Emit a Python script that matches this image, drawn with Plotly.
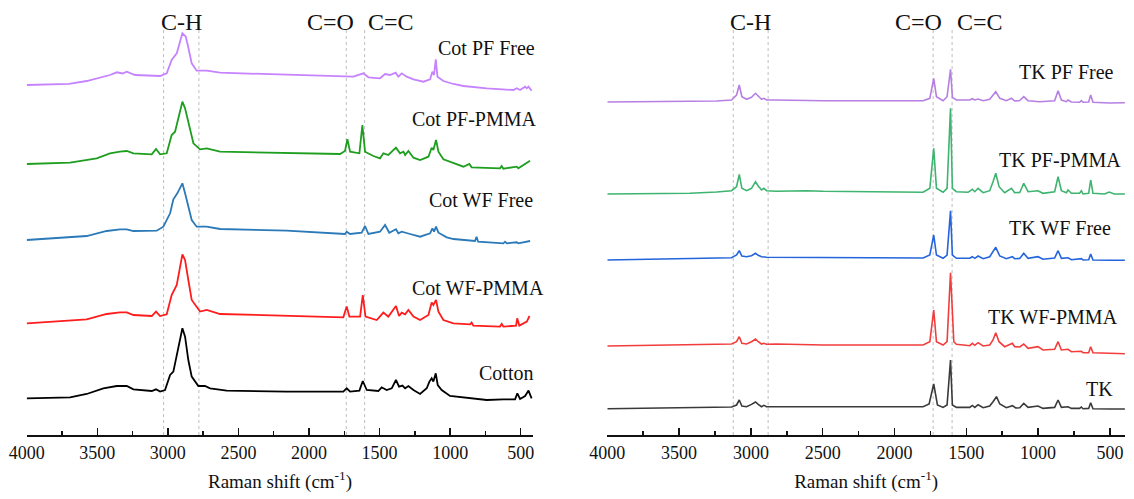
import plotly.graph_objects as go

FONT = "Liberation Serif, Times New Roman, serif"
W, H = 1134, 499

# ---------------- Left panel: cotton spectra (wavenumber, relative intensity) ----------------
cot_pf_free_x = [4000, 3700, 3575, 3410, 3362, 3320, 3291, 3232, 3055, 3008, 2973, 2937, 2897, 2873, 2859, 2831, 2796, 2725, 2630, 2276, 1686,
                 1615, 1579, 1497, 1461, 1426, 1386, 1367, 1343, 1308, 1260, 1190, 1142, 1126, 1114, 1102, 1090, 1048, 977, 906, 741,
                 552, 528, 505, 469, 457, 445, 423]
cot_pf_free_y = [0, 1.2, 4, 10, 12.7, 11.5, 13.3, 10, 9, 11.7, 25, 31.7, 51.7, 48.3, 40, 21.7, 14.3, 14.3, 12.3, 10.7, 8.3,
                 11.7, 7.7, 6.7, 11, 10, 12.3, 8.3, 11.7, 8.3, 5.7, 3.3, 5.7, 13.3, 10, 25.7, 8.3, 4, 1, -1, -3.3,
                 -5, -3.3, -5, -1.7, -3.3, -1.7, -5.7]

cot_pf_pmma_x = [4000, 3693, 3504, 3410, 3339, 3291, 3244, 3114, 3084, 3055, 3008, 2973, 2949, 2897, 2878, 2843, 2819, 2772, 2725, 2630,
                 2158, 1780, 1745, 1728, 1709, 1643, 1622, 1603, 1544, 1497, 1473, 1438, 1384, 1355, 1331, 1319, 1296, 1260, 1213, 1154,
                 1131, 1119, 1100, 1083, 1048, 977, 906, 864, 848, 647, 635, 623, 528, 517, 457, 434]
cot_pf_pmma_y = [0, 1.3, 5.7, 10.7, 12.3, 13, 10.7, 9.7, 15, 9.7, 10.7, 29, 32.3, 62.3, 55.7, 34, 20.7, 14.7, 15.7, 12.3,
                 11.3, 10, 13, 24.7, 12.3, 10.7, 39, 12.3, 8, 5.7, 10.7, 9, 16.3, 10.7, 12.3, 9, 13, 6.3, 4, 7.3,
                 16.3, 14, 24, 12.3, 4.7, 0.7, -2.7, 0, -3.3, -4.3, -2, -4.7, -2.7, -4.3, 1.3, 3.3]

cot_wf_free_x = [4000, 3575, 3433, 3339, 3291, 3244, 3079, 3032, 2984, 2961, 2933, 2897, 2878, 2855, 2831, 2796, 2725, 2630, 2158, 1745,
                 1733, 1709, 1627, 1603, 1579, 1497, 1461, 1431, 1384, 1367, 1343, 1284, 1213, 1142, 1126, 1114, 1100, 1083, 1024, 977,
                 824, 813, 802, 623, 611, 599, 528, 517, 434]
cot_wf_free_y = [0, 4, 9, 10.7, 10.7, 9, 9.3, 13.3, 26.7, 40.7, 46.7, 56.7, 46.7, 35, 20, 13.3, 13.3, 11, 9.3, 6,
                 8.3, 6, 7.3, 14, 6, 8.3, 15, 7.3, 10.7, 6.7, 8.3, 6, 3.3, 6.7, 11.7, 8.3, 13.3, 7.3, 2.7, 1,
                 -1, 3.3, -1.7, -3.3, -1.7, -3.3, -2.3, -3.3, -1]

cot_wf_pmma_x = [4000, 3575, 3433, 3339, 3291, 3244, 3114, 3084, 3055, 3008, 2973, 2937, 2897, 2878, 2855, 2831, 2772, 2725, 2630, 2158,
                 1757, 1733, 1714, 1638, 1619, 1600, 1520, 1473, 1438, 1384, 1362, 1343, 1319, 1296, 1260, 1213, 1154, 1131, 1119, 1100,
                 1083, 1048, 977, 859, 848, 836, 647, 635, 623, 533, 525, 510, 457, 438]
cot_wf_pmma_y = [0, 4, 9.3, 11, 11, 8.3, 7.3, 11.7, 7.3, 9, 28.3, 38.3, 69, 63.3, 43.3, 23.3, 11.7, 13.3, 9.3, 7.3,
                 6, 16.7, 6.7, 6.7, 28.3, 6.7, 3.3, 10.7, 6.7, 17.3, 7.3, 10.7, 9, 13.3, 6.7, 3.3, 8.3, 20.7, 18.3, 23.3,
                 11.7, 3.3, 0, -1, 0.7, -2.3, -3.3, -0.7, -3.3, -2.3, 5, -2.3, 1.7, 7.3]

cotton_x = [4000, 3693, 3575, 3457, 3362, 3291, 3244, 3114, 3084, 3055, 3020, 2984, 2961, 2933, 2897, 2878, 2855, 2831, 2784, 2737,
            2701, 2583, 2158, 1757, 1733, 1709, 1643, 1619, 1591, 1509, 1485, 1450, 1414, 1384, 1362, 1338, 1319, 1296, 1260, 1213,
            1166, 1147, 1131, 1119, 1102, 1088, 1060, 1001, 906, 859, 741, 623, 540, 524, 505, 469, 445, 423]
cotton_y = [0, 1, 4.3, 10, 12.3, 12.3, 9, 7.3, 9, 6.7, 8.3, 23.3, 26.7, 45, 70, 61.7, 38.3, 21.7, 12.3, 12.3,
            10, 7.7, 6.7, 6.7, 10, 6.7, 7.7, 17.3, 8.3, 7.3, 11, 8.3, 10, 18.3, 11.7, 12.7, 10, 12.3, 8.3, 4.3,
            10, 16.7, 20, 16.7, 25, 13.3, 8.3, 2.3, 1, -0.3, -1.7, -1, -1, 5, -0.7, 2.3, 7.7, 0]

# ---------------- Right panel: TK spectra ----------------
tk_pf_free_x = [4000, 3239, 3135, 3100, 3081, 3063, 3030, 2996, 2968, 2949, 2926, 2910, 2891, 2822, 2497, 1801, 1754, 1727, 1708, 1662,
                1634, 1610, 1597, 1569, 1476, 1458, 1441, 1418, 1383, 1337, 1295, 1267, 1221, 1186, 1163, 1128, 1100, 1070, 989, 885,
                861, 838, 803, 792, 768, 711, 699, 687, 648, 634, 618, 502, 396]
tk_pf_free_y = [0, 1, 2, 7, 17, 5.3, 2.7, 4.7, 8.7, 6, 2.7, 3.7, 2, 2, 1.3, 1.3, 3.7, 23.7, 5.3, 1.3,
                5.3, 32.7, 4.7, 2, 2, 3.3, 2, 3, 1.3, 2.7, 10.3, 3.7, 1.3, 3.7, 1, 1.5, 5.3, 1.3, 0.3, 1.3,
                11.3, 2, 0.3, 2, 0, -0.3, 1.3, -0.3, 0, 7, -0.3, -1, -0.7]

tk_pf_pmma_x = [4000, 3425, 3239, 3135, 3100, 3081, 3063, 3030, 2996, 2968, 2949, 2926, 2910, 2891, 2822, 2613, 2497, 1801, 1754, 1727,
                1708, 1662, 1634, 1610, 1597, 1569, 1488, 1458, 1441, 1418, 1383, 1337, 1314, 1295, 1272, 1233, 1186, 1163, 1128, 1100,
                1070, 1001, 966, 885, 861, 838, 803, 792, 768, 711, 699, 687, 648, 634, 618, 537, 505, 470, 396]
tk_pf_pmma_y = [0, 0.7, 2, 3.3, 7.3, 19.7, 5.7, 3.3, 5.7, 12.3, 8, 4, 5.7, 3.3, 2.7, 3.3, 2.7, 1.7, 5.7, 45.7,
                5.7, 1.7, 5.7, 85.7, 5.7, 2.3, 1.7, 4.7, 2.3, 5.7, 1.3, 3.3, 12.3, 20.7, 7.3, 1.3, 5.7, 1.3, 1.5, 10.7,
                2.3, 3.3, 0.7, 2.3, 17.3, 3.3, 1.3, 4, 0.7, 0.7, 3.3, 0, 0.7, 14, 0.7, 0, 2, 0, 0]

tk_wf_free_x = [4000, 3239, 3135, 3100, 3081, 3063, 3030, 2996, 2968, 2949, 2926, 2891, 2497, 1801, 1754, 1727, 1708, 1662, 1634, 1610,
                1597, 1569, 1476, 1458, 1441, 1418, 1383, 1337, 1295, 1267, 1221, 1179, 1163, 1128, 1100, 1070, 1001, 966, 885, 861,
                838, 792, 768, 699, 687, 648, 634, 618, 502, 396]
tk_wf_free_y = [0, 1.7, 2.3, 5, 9.3, 4, 3.3, 4.3, 6.7, 4.7, 3.3, 2.7, 2.3, 2, 5, 25, 5, 1.7, 5, 49.3,
                5, 1.7, 1.7, 3.3, 1.7, 4, 1.3, 3.3, 12.7, 4, 1.3, 3.3, 1.3, 1.5, 6.7, 1.7, 3.3, 0.7, 2, 9.3,
                1.7, 2.3, 0.3, 1.3, 0, 0.3, 6, 0, -0.3, -0.3]

tk_wf_pmma_x = [4000, 3239, 3135, 3100, 3081, 3063, 3030, 2996, 2968, 2949, 2926, 2910, 2891, 2822, 2497, 1801, 1754, 1727, 1708, 1662,
                1634, 1610, 1597, 1587, 1569, 1476, 1458, 1441, 1418, 1383, 1337, 1314, 1295, 1272, 1233, 1179, 1163, 1128, 1100, 1070,
                1001, 966, 885, 861, 838, 792, 768, 699, 687, 648, 634, 618, 502, 396]
tk_wf_pmma_y = [0, 1.7, 2, 4.3, 9.3, 2.7, 2, 4.3, 7, 4.3, 2, 2.7, 1.7, 2, 1, 1, 4.3, 36, 4.3, 1,
                4.3, 73.3, 22.7, 4.3, 1.7, 0.3, 2.7, 0.7, 3.3, 0, 1, 6, 13.3, 4.3, -0.7, 2.7, -0.7, -1, 2, -2.3,
                -0.7, -4, -3.3, 4.3, -4, -3.3, -5.7, -5.3, -6.7, -6.7, -0.7, -6.7, -7.3, -7.7]

tk_x = [4000, 3239, 3135, 3100, 3081, 3063, 3030, 2996, 2968, 2949, 2926, 2910, 2891, 2822, 2497, 1801, 1759, 1727, 1701, 1662,
        1634, 1610, 1597, 1569, 1476, 1458, 1441, 1418, 1383, 1337, 1314, 1290, 1267, 1221, 1179, 1156, 1128, 1100, 1070, 1001,
        966, 885, 861, 838, 792, 768, 711, 699, 687, 648, 634, 618, 502, 396]
tk_y = [0, 1.3, 1.7, 3.7, 8.7, 2.7, 2, 4.3, 6.7, 4.3, 2, 3.3, 2, 2, 2, 2, 4.7, 24.7, 3.7, 1.3,
        3.7, 48.7, 3.7, 1.3, 1.3, 3.3, 1.3, 4, 1, 2.7, 7, 12, 4.7, 1, 3, 0.7, 1, 5.3, 1.3, 2.7,
        0.3, 1.3, 8.7, 1.3, 2, 0.3, 0.3, 1.7, 0, 0.3, 6, 0, -0.3, -0.3]

# series names, stacking offsets (a.u.), colours
left_names = ["Cot PF Free", "Cot PF-PMMA", "Cot WF Free", "Cot WF-PMMA", "Cotton"]
left_x = [cot_pf_free_x, cot_pf_pmma_x, cot_wf_free_x, cot_wf_pmma_x, cotton_x]
left_y = [cot_pf_free_y, cot_pf_pmma_y, cot_wf_free_y, cot_wf_pmma_y, cotton_y]
left_offsets = [350, 271, 195, 111.7, 36.7]
left_label_y = [386.7, 316, 235, 147, 62.3]
left_label_right = [536.7, 538, 535, 546, 535]
left_colors = ["#C683FF", "#1E9E1E", "#2A79B9", "#FF1C1C", "#000000"]

right_names = ["TK PF Free", "TK PF-PMMA", "TK WF Free", "TK WF-PMMA", "TK"]
right_x = [tk_pf_free_x, tk_pf_pmma_x, tk_wf_free_x, tk_wf_pmma_x, tk_x]
right_y = [tk_pf_free_y, tk_pf_pmma_y, tk_wf_free_y, tk_wf_pmma_y, tk_y]
right_offsets = [333, 241, 175, 89, 26.3]
right_label_y = [363.3, 275, 207, 118, 46]
right_label_right = [1116, 1123, 1113, 1120, 1115]
right_colors = ["#B77FE2", "#3DB46F", "#2464DC", "#F23D3D", "#3A3A3A"]

# band marker lines (cm-1) and labels
left_band_lines = [3030, 2780, 1736, 1606]
right_band_lines = [3123, 2880, 1731, 1599]
band_labels = ["C-H", "C=O", "C=C"]
left_band_label_x = [2905, 1851, 1419]
right_band_label_x = [3001, 1831, 1407]

major_ticks = [4000, 3500, 3000, 2500, 2000, 1500, 1000, 500]
major_text = ["4000", "3500", "3000", "2500", "2000", "1500", "1000", "500"]
minor_ticks = [3750, 3250, 2750, 2250, 1750, 1250, 750]

fig = go.Figure()
for xs, ys, off, col, nm in zip(left_x, left_y, left_offsets, left_colors, left_names):
    fig.add_trace(go.Scatter(x=xs, y=[off + v for v in ys], mode="lines", name=nm,
                             line=dict(color=col, width=1.8), xaxis="x", yaxis="y", showlegend=False))
for xs, ys, off, col, nm in zip(right_x, right_y, right_offsets, right_colors, right_names):
    fig.add_trace(go.Scatter(x=xs, y=[off + v for v in ys], mode="lines", name=nm,
                             line=dict(color=col, width=1.6), xaxis="x2", yaxis="y2", showlegend=False))

shapes = []
for xr, yr, lines in (("x", "y", left_band_lines), ("x2", "y2", right_band_lines)):
    for v in lines:
        shapes.append(dict(type="line", xref=xr, yref=yr, x0=v, x1=v, y0=0, y1=407,
                           line=dict(color="#BDBDBD", width=1, dash="dot"), layer="below"))

annotations = []
for xr, yr, xs in (("x", "y", left_band_label_x), ("x2", "y2", right_band_label_x)):
    for t, v in zip(band_labels, xs):
        annotations.append(dict(x=v, y=413, xref=xr, yref=yr, text=t, showarrow=False,
                                xanchor="center", yanchor="middle",
                                font=dict(family=FONT, size=24, color="#111111")))
for names, ys, rights, yr in ((left_names, left_label_y, left_label_right, "y"),
                              (right_names, right_label_y, right_label_right, "y2")):
    for nm, yv, rx in zip(names, ys, rights):
        annotations.append(dict(x=rx / W, y=yv, xref="paper", yref=yr, text=nm, showarrow=False,
                                xanchor="right", yanchor="middle",
                                font=dict(family=FONT, size=20, color="#111111")))

def xaxis_style(domain, rng, anchor):
    return dict(domain=domain, range=rng, anchor=anchor, showgrid=False, zeroline=False,
                automargin=False,
                showline=True, linecolor="#111111", linewidth=1.8,
                ticks="inside", ticklen=7, tickwidth=1.5, tickcolor="#111111",
                tickmode="array", tickvals=major_ticks, ticktext=major_text,
                minor=dict(ticks="inside", ticklen=4, tickwidth=1.5, tickcolor="#111111",
                           tickmode="array", tickvals=minor_ticks, showgrid=False),
                tickfont=dict(family=FONT, size=18, color="#111111"),
                ticklabelstandoff=1,
                title=dict(text="Raman shift (cm<sup>-1</sup>)", standoff=12,
                           font=dict(family=FONT, size=19, color="#111111")))

fig.update_layout(
    width=W, height=H, autosize=False,
    margin=dict(l=0, r=0, t=0, b=64, pad=0, autoexpand=False),
    paper_bgcolor="white", plot_bgcolor="white",
    xaxis=xaxis_style([26.7 / W, 533.3 / W], [4000, 411], "y"),
    xaxis2=xaxis_style([607.3 / W, 1125 / W], [4000, 395], "y2"),
    yaxis=dict(domain=[0, 1], range=[0, 435], visible=False, anchor="x", automargin=False),
    yaxis2=dict(domain=[0, 1], range=[0, 435], visible=False, anchor="x2", automargin=False),
    shapes=shapes,
    annotations=annotations,
)

fig.write_html("out.html", config={"displayModeBar": False, "staticPlot": True},
               post_script="document.body.style.margin='0';document.body.style.overflow='hidden';")
